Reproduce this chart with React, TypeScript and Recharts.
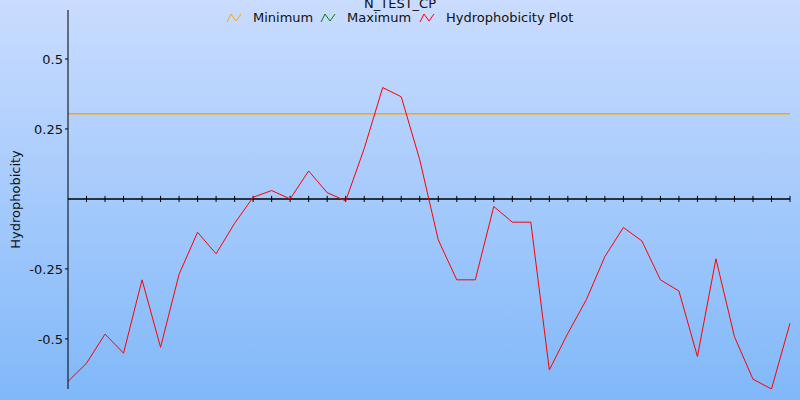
import React from 'react';
import { LineChart, Line, XAxis, YAxis, ReferenceLine } from 'recharts';

const positions = Array.from({ length: 40 }, (_, i) => i + 1);
const hydrophobicity = [
  -0.652, -0.587, -0.483, -0.551, -0.289, -0.53, -0.269, -0.119, -0.196, -0.087,
  0.006, 0.03, 0.0, 0.1, 0.0225, -0.007, 0.18, 0.398, 0.365, 0.14,
  -0.146, -0.289, -0.289, -0.027, -0.083, -0.083, -0.611, -0.48, -0.36, -0.206,
  -0.102, -0.15, -0.289, -0.329, -0.563, -0.214, -0.492, -0.644, -0.679, -0.444,
];
const minimumValue = 0.304;
const yTicks = [-0.5, -0.25, 0.25, 0.5];

const legendItems = [
  { name: 'Minimum', color: '#ffa500', left: 226 },
  { name: 'Maximum', color: '#008000', left: 320 },
  { name: 'Hydrophobicity Plot', color: '#ff0000', left: 419 },
];

const data = positions.map((p, i) => ({ pos: p, value: hydrophobicity[i] }));
const font = '"DejaVu Sans", Verdana, sans-serif';

function Zig({ color }: { color: string }) {
  return (
    <svg width={17} height={10} style={{ display: 'block' }}>
      <polyline points="1,9 5,1 10,8 15,1" fill="none" stroke={color} strokeWidth={1} />
    </svg>
  );
}

export default function App() {
  return (
    <div
      style={{
        position: 'absolute',
        left: 0,
        top: 0,
        width: 800,
        height: 400,
        overflow: 'hidden',
        background: 'linear-gradient(to bottom, #cadcff 0%, #80b8f9 100%)',
        fontFamily: font,
      }}
    >
      <div
        style={{
          position: 'absolute',
          left: 0,
          width: 800,
          top: -3,
          textAlign: 'center',
          fontSize: 13,
          lineHeight: '14px',
          color: '#111',
        }}
      >
        N_TEST_CP
      </div>
      {legendItems.map((it) => (
        <div
          key={it.name}
          style={{
            position: 'absolute',
            left: it.left,
            top: 10,
            display: 'flex',
            alignItems: 'center',
            fontSize: 13,
            color: '#111',
          }}
        >
          <Zig color={it.color} />
          <span style={{ marginLeft: 10 }}>{it.name}</span>
        </div>
      ))}
      <LineChart
        width={800}
        height={400}
        data={data}
        margin={{ top: 10, right: 10, bottom: 11, left: 0 }}
      >
        <XAxis dataKey="pos" hide />
        <YAxis
          type="number"
          domain={[-0.679, 0.675]}
          ticks={yTicks}
          allowDataOverflow
          width={68}
          tickSize={3}
          tickMargin={2}
          stroke="#000"
          tick={{ fill: '#111', fontSize: 13, fontFamily: font }}
          label={{
            value: 'Hydrophobicity',
            angle: -90,
            position: 'insideLeft',
            offset: 15,
            style: { textAnchor: 'middle', fill: '#111', fontSize: 13, fontFamily: font },
          }}
        />
        <ReferenceLine y={0} stroke="#000" strokeWidth={1.5} />
        {positions.map((p) => (
          <ReferenceLine
            key={p}
            segment={[
              { x: p, y: -0.011 },
              { x: p, y: 0.011 },
            ]}
            stroke="#000"
          />
        ))}
        <ReferenceLine y={minimumValue} stroke="#ffa500" strokeWidth={1.5} />
        <Line
          type="linear"
          dataKey="value"
          stroke="#ff0000"
          strokeWidth={1}
          dot={false}
          isAnimationActive={false}
        />
      </LineChart>
    </div>
  );
}
